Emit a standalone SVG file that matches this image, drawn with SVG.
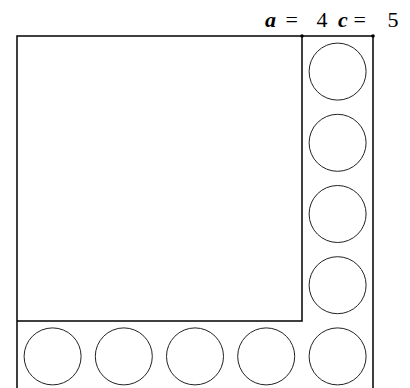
<svg xmlns="http://www.w3.org/2000/svg" width="410" height="388" viewBox="0 0 410 388">
<style>
.frame{fill:none;stroke:#000;stroke-width:1.5}
.c{fill:none;stroke:#222;stroke-width:1}
.t{font-family:"Liberation Serif","Times New Roman",serif;font-size:22px;fill:#000}
.v{font-weight:bold;font-style:italic}
</style>
<rect width="410" height="388" fill="#fff"/>
<g id="frame">
<polyline class="frame" points="17,392 17,36 373,36 373,392"/>
<polyline class="frame" points="17,321 302,321 302,36"/>
<circle cx="302" cy="36" r="1.8" fill="#000"/>
<circle cx="373" cy="36" r="1.8" fill="#000"/>
</g>
<g id="circles">
<circle class="c" cx="337.6" cy="71.6" r="28.5"/>
<circle class="c" cx="337.6" cy="142.8" r="28.5"/>
<circle class="c" cx="337.6" cy="214" r="28.5"/>
<circle class="c" cx="337.6" cy="285.2" r="28.5"/>
<circle class="c" cx="337.6" cy="356.4" r="28.5"/>
<circle class="c" cx="52.6" cy="356.4" r="28.5"/>
<circle class="c" cx="123.8" cy="356.4" r="28.5"/>
<circle class="c" cx="195" cy="356.4" r="28.5"/>
<circle class="c" cx="266.2" cy="356.4" r="28.5"/>
</g>
<g id="labels">
<text class="t" y="27"><tspan class="v" x="265">a</tspan><tspan x="285.5">=</tspan><tspan x="316.5">4</tspan><tspan class="v" x="338">c</tspan><tspan x="353.5">=</tspan><tspan x="387.5">5</tspan></text>
</g>
</svg>
